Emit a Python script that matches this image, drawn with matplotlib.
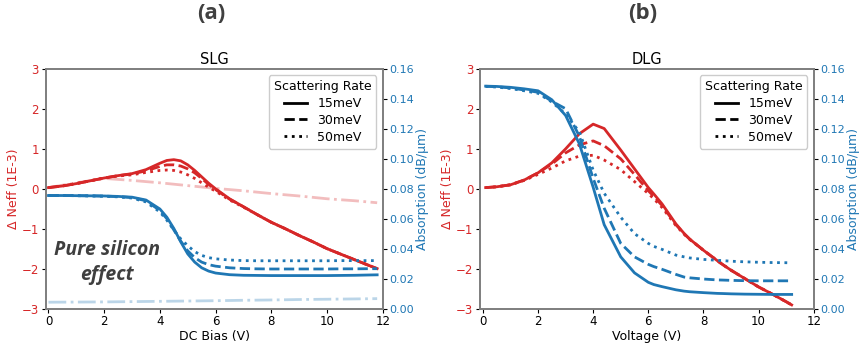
import numpy as np
import matplotlib.pyplot as plt

RED = '#d62728'
BLUE = '#1f77b4'

# ---- SLG data (left panel) ----
slg_x = [0, 0.5, 1, 1.5, 2, 2.5, 3, 3.5, 4, 4.25, 4.5, 4.75, 5, 5.25, 5.5, 5.75, 6, 6.5, 7, 7.5, 8, 8.5, 9, 9.5, 10, 10.5, 11, 11.5, 11.8]
slg_neff_15 = [0.03, 0.07, 0.13, 0.2, 0.27, 0.33, 0.38, 0.48, 0.64, 0.71, 0.73, 0.7, 0.6, 0.46, 0.3, 0.14, 0.0, -0.25, -0.45, -0.65, -0.84, -1.0, -1.17, -1.33, -1.5, -1.64, -1.78, -1.92, -2.0]
slg_neff_30 = [0.03, 0.07, 0.13, 0.2, 0.27, 0.33, 0.37, 0.45, 0.56, 0.6, 0.6, 0.57, 0.5, 0.4, 0.26, 0.11, -0.02, -0.26, -0.45, -0.65, -0.84, -1.0, -1.17, -1.33, -1.5, -1.64, -1.78, -1.92, -2.0]
slg_neff_50 = [0.03, 0.07, 0.13, 0.2, 0.27, 0.32, 0.35, 0.41, 0.46, 0.47, 0.46, 0.42, 0.35, 0.26, 0.15, 0.04, -0.06, -0.28, -0.46, -0.65, -0.84, -1.0, -1.17, -1.33, -1.5, -1.64, -1.78, -1.92, -2.0]
slg_abs_15 = [0.0755, 0.0755, 0.0754, 0.0753, 0.0752, 0.0749, 0.0744, 0.0725, 0.0665, 0.061, 0.0535, 0.0445, 0.0365, 0.031, 0.0272, 0.025, 0.0237, 0.0226, 0.0222, 0.0221, 0.022, 0.022, 0.022, 0.022, 0.022, 0.0221, 0.0222, 0.0224, 0.0225]
slg_abs_30 = [0.0755, 0.0755, 0.0754, 0.0753, 0.0751, 0.0748, 0.0741, 0.072, 0.0655, 0.06, 0.0525, 0.045, 0.0385, 0.034, 0.031, 0.0293, 0.0283, 0.0272, 0.0267, 0.0265, 0.0264, 0.0264, 0.0264, 0.0264, 0.0264, 0.0265, 0.0265, 0.0266, 0.0266]
slg_abs_50 = [0.0755, 0.0755, 0.0754, 0.0752, 0.075, 0.0746, 0.0738, 0.0712, 0.0645, 0.059, 0.0525, 0.0465, 0.042, 0.038, 0.0355, 0.034, 0.0332, 0.0324, 0.032, 0.0319, 0.0319, 0.0319, 0.0319, 0.0319, 0.0319, 0.032, 0.032, 0.032, 0.032]
si_x = [0, 1, 2, 3, 4, 5, 6, 7, 8, 9, 10, 11, 11.8]
si_neff = [0.03, 0.15, 0.26, 0.21, 0.15, 0.08, 0.01, -0.05, -0.12, -0.18, -0.25, -0.3, -0.35]
si_abs = [0.0042, 0.0043, 0.0044, 0.0046, 0.0048, 0.005, 0.0052, 0.0055, 0.0057, 0.006, 0.0062, 0.0064, 0.0066]

# ---- DLG data (right panel) ----
dlg_x = [0.1, 0.5, 1, 1.5, 2, 2.5, 3, 3.5, 4, 4.4, 5, 5.5, 6, 6.2, 6.5, 7, 7.3, 7.5, 8, 8.5, 8.7, 9, 9.5, 10, 10.5, 11, 11.2]
dlg_neff_15 = [0.03, 0.05, 0.1, 0.22, 0.4, 0.65, 1.0, 1.38, 1.62, 1.51, 0.97, 0.5, 0.03, -0.13, -0.38, -0.88, -1.12, -1.26, -1.54, -1.8, -1.9, -2.04, -2.25, -2.46, -2.64, -2.83, -2.91]
dlg_neff_30 = [0.03, 0.05, 0.1, 0.22, 0.4, 0.62, 0.9, 1.1, 1.2, 1.08, 0.75, 0.36, -0.05, -0.19, -0.42, -0.9, -1.13, -1.26, -1.54, -1.8, -1.9, -2.04, -2.25, -2.46, -2.64, -2.83, -2.91]
dlg_neff_50 = [0.03, 0.05, 0.1, 0.21, 0.36, 0.52, 0.7, 0.82, 0.84, 0.72, 0.48, 0.18, -0.12, -0.25, -0.47, -0.92, -1.14, -1.27, -1.54, -1.8, -1.9, -2.04, -2.25, -2.46, -2.64, -2.83, -2.91]
dlg_abs_15 = [0.1486, 0.1484, 0.1478, 0.1468, 0.1455, 0.1395, 0.129, 0.11, 0.081, 0.056, 0.0345, 0.0238, 0.0175, 0.016, 0.0146, 0.0125, 0.0116, 0.0112, 0.0106, 0.0101, 0.01, 0.0098, 0.0096, 0.0095, 0.0094, 0.0094, 0.0094]
dlg_abs_30 = [0.1485, 0.1482, 0.1474, 0.146, 0.1445, 0.1385, 0.1335, 0.115, 0.087, 0.067, 0.0435, 0.0345, 0.0295, 0.028, 0.0262, 0.0228, 0.021, 0.0205, 0.0197, 0.0191, 0.019, 0.0188, 0.0186, 0.0185, 0.0185, 0.0185, 0.0185]
dlg_abs_50 = [0.1484, 0.148, 0.147, 0.1455, 0.1438, 0.138, 0.13, 0.118, 0.0925, 0.077, 0.061, 0.05, 0.0435, 0.0415, 0.0395, 0.0357, 0.0345, 0.0338, 0.0328, 0.0322, 0.032, 0.0316, 0.0312, 0.0309, 0.0307, 0.0306, 0.0305]

rates = ['15meV', '30meV', '50meV']
styles = ['-', '--', ':']

plt.rcParams['font.size'] = 9
fig = plt.figure(figsize=(8.62, 3.48), dpi=100)
ax1 = fig.add_axes([0.053, 0.1135, 0.391, 0.688])
ax2 = fig.add_axes([0.557, 0.1135, 0.387, 0.688])


def setup(ax, title, xlabel):
    axr = ax.twinx()
    ax.set_xlim(-0.1, 12)
    ax.set_ylim(-3, 3)
    axr.set_ylim(0, 0.16)
    ax.set_xticks(range(0, 13, 2))
    ax.set_yticks(range(-3, 4))
    axr.set_yticks(np.arange(0, 0.161, 0.02))
    ax.set_title(title, fontsize=10.5, pad=4)
    ax.set_xlabel(xlabel, fontsize=9, labelpad=1)
    ax.set_ylabel('Δ Neff (1E-3)', color=RED, fontsize=9, labelpad=1)
    axr.set_ylabel('Absorption (dB/μm)', color=BLUE, fontsize=9, labelpad=1)
    ax.tick_params(labelsize=8.5, length=3, pad=2)
    axr.tick_params(labelsize=8, length=3, pad=2)
    ax.tick_params(axis='y', labelcolor=RED)
    axr.tick_params(axis='y', labelcolor=BLUE)
    for a in (ax, axr):
        for s in a.spines.values():
            s.set_color('#808080')
            s.set_linewidth(1.3)
    return axr


axr1 = setup(ax1, 'SLG', 'DC Bias (V)')
axr2 = setup(ax2, 'DLG', 'Voltage (V)')

ax1.plot(si_x, si_neff, color=RED, alpha=0.3, lw=2, ls='-.')
axr1.plot(si_x, si_abs, color=BLUE, alpha=0.3, lw=2, ls='-.')
for ys, ls in zip([slg_neff_15, slg_neff_30, slg_neff_50], styles):
    ax1.plot(slg_x, ys, color=RED, lw=2, ls=ls)
for ys, ls in zip([slg_abs_15, slg_abs_30, slg_abs_50], styles):
    axr1.plot(slg_x, ys, color=BLUE, lw=2, ls=ls)

for ys, ls in zip([dlg_neff_15, dlg_neff_30, dlg_neff_50], styles):
    ax2.plot(dlg_x, ys, color=RED, lw=2, ls=ls)
for ys, ls in zip([dlg_abs_15, dlg_abs_30, dlg_abs_50], styles):
    axr2.plot(dlg_x, ys, color=BLUE, lw=2, ls=ls)

# legend with black style handles
for axr in (axr1, axr2):
    handles = [plt.Line2D([], [], color='black', lw=2, ls=ls) for ls in styles]
    axr.legend(handles, rates, title='Scattering Rate', loc='upper right',
               title_fontsize=9, fontsize=9, handlelength=1.9,
               labelspacing=0.3, borderpad=0.4, handletextpad=0.8,
               framealpha=1)

ax1.text(2.1, -1.85, 'Pure silicon\neffect', ha='center', va='center',
         fontsize=14, fontweight='bold', style='italic', family='Open Sans',
         color='#3f3f3f', linespacing=1.3)

fig.text(0.245, 0.96, '(a)', ha='center', va='center', fontsize=16,
         fontweight='bold', family='Open Sans', color='#404040')
fig.text(0.745, 0.96, '(b)', ha='center', va='center', fontsize=16,
         fontweight='bold', family='Open Sans', color='#404040')

fig.savefig('out.png', dpi=100)
